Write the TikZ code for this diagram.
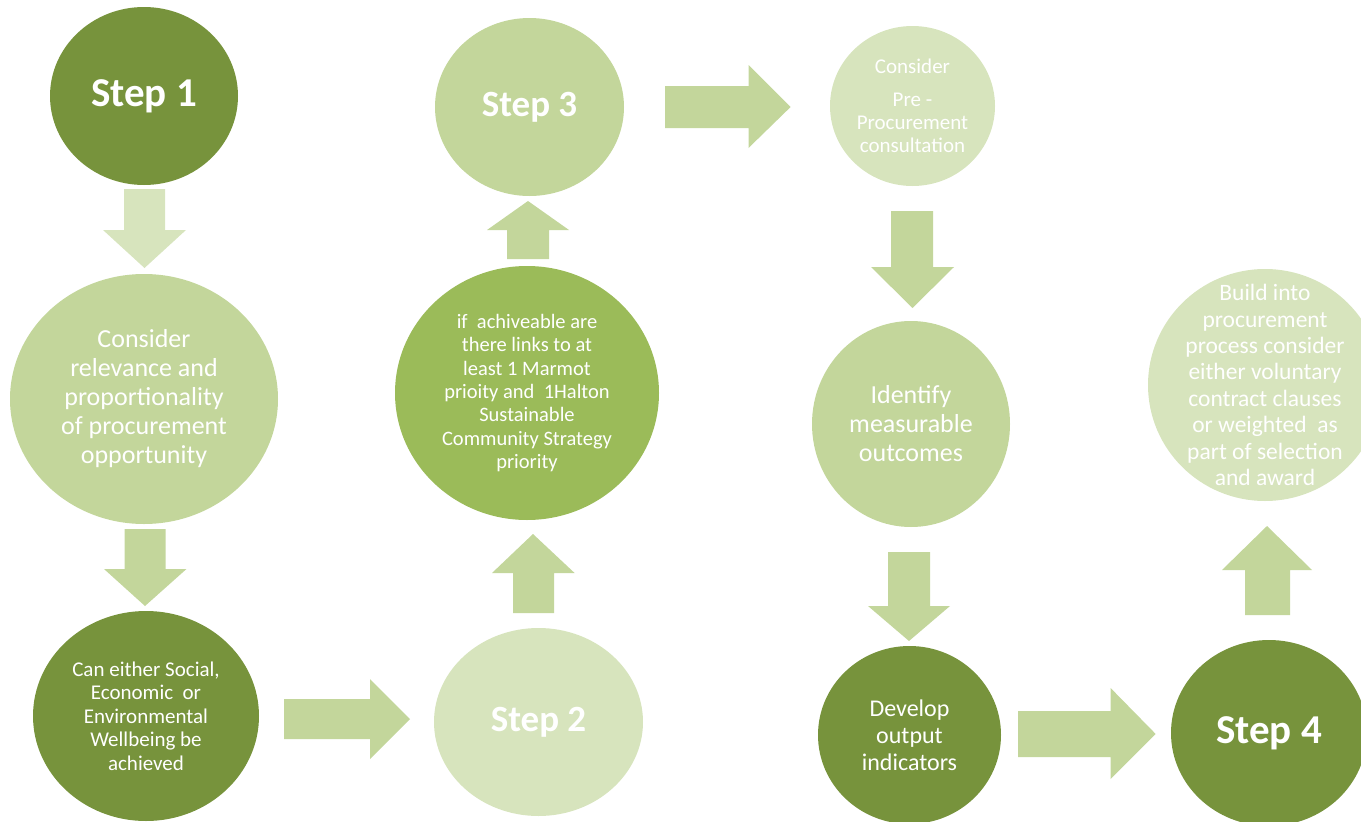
\documentclass[tikz,border=0pt]{standalone}
\usepackage{fontspec}
\setmainfont{Carlito}
\usetikzlibrary{shapes.geometric}
\definecolor{gdark}{HTML}{77933C}
\definecolor{gmed}{HTML}{9BBB59}
\definecolor{glight}{HTML}{C3D69B}
\definecolor{gvlight}{HTML}{D7E4BD}
\begin{document}
\begin{tikzpicture}[x=1pt,y=-1pt,
  bub/.style={ellipse,inner sep=0pt,draw=none},
  txt/.style={text=white,align=center,inner sep=0pt},
  steptxt/.style={txt,font=\bfseries},
  blk/.style={fill=glight}]
\useasboundingbox (0,0) rectangle (1361,822);

% bubbles
\node[bub,fill=gdark,minimum width=188pt,minimum height=178pt] (s1) at (144,96) {};
\node[bub,fill=glight,minimum width=268pt,minimum height=250pt] (cr) at (144,399) {};
\node[bub,fill=gdark,minimum width=226pt,minimum height=210pt] (ce) at (146,716) {};
\node[bub,fill=gvlight,minimum width=209pt,minimum height=188pt] (s2) at (538.5,722) {};
\node[bub,fill=gmed,minimum width=264pt,minimum height=254pt] (ia) at (527,393) {};
\node[bub,fill=glight,minimum width=189pt,minimum height=178pt] (s3) at (529.5,107) {};
\node[bub,fill=gvlight,minimum width=165pt,minimum height=160pt] (pp) at (912.5,106) {};
\node[bub,fill=glight,minimum width=198pt,minimum height=206pt] (im) at (911,424) {};
\node[bub,fill=gdark,minimum width=183pt,minimum height=178pt] (dv) at (909.5,735) {};
\node[bub,fill=gdark,minimum width=196pt,minimum height=186pt] (s4) at (1269,733) {};
\node[bub,fill=gvlight,minimum width=234pt,minimum height=232pt] (bi) at (1265,385) {};

% texts
\node[steptxt,font=\bfseries\fontsize{41}{48}\selectfont] (s1t) at (s1) {Step 1};
\node[steptxt,font=\bfseries\fontsize{37}{44}\selectfont] (s2t) at (s2) {Step 2};
\node[steptxt,font=\bfseries\fontsize{37}{44}\selectfont] (s3t) at (s3) {Step 3};
\node[steptxt,font=\bfseries\fontsize{41}{48}\selectfont] (s4t) at (s4) {Step 4};
\node[txt,font=\fontsize{26}{29}\selectfont] (crt) at (cr) {Consider\\relevance and\\proportionality\\of procurement\\opportunity};
\node[txt,font=\fontsize{21}{23.5}\selectfont] (cet) at (ce) {Can either Social,\\Economic~ or\\Environmental\\Wellbeing be\\achieved};
\node[txt,font=\fontsize{20.5}{23.3}\selectfont] (iat) at (ia) {if~ achiveable are\\there links to at\\least 1 Marmot\\prioity and~ 1Halton\\Sustainable\\Community Strategy\\priority};
\node[txt,font=\fontsize{21}{23}\selectfont] (ppt) at (pp) {Consider\\[10pt]Pre -\\Procurement\\consultation};
\node[txt,font=\fontsize{26}{29}\selectfont] (imt) at (im) {Identify\\measurable\\outcomes};
\node[txt,font=\fontsize{24}{27}\selectfont] (dvt) at (dv) {Develop\\output\\indicators};
\node[txt,font=\fontsize{23.5}{26.4}\selectfont] (bit) at (bi) {Build into\\procurement\\process consider\\either voluntary\\contract clauses\\or weighted~ as\\part of selection\\and award};

% block arrows
\fill[gvlight] (124,189) -- (165,189) -- (165,230) -- (186,230) -- (144.5,268) -- (103,230) -- (124,230) -- cycle;
\fill[blk] (124.5,529) -- (165.5,529) -- (165.5,569) -- (186.5,569) -- (145,606) -- (104,569) -- (124.5,569) -- cycle;
\fill[blk] (284,699) -- (370,699) -- (370,679) -- (410,719) -- (370,759) -- (370,739) -- (284,739) -- cycle;
\fill[blk] (513,613) -- (554,613) -- (554,573) -- (574.6,573) -- (533,534) -- (492,573) -- (513,573) -- cycle;
\fill[blk] (507,259) -- (549,259) -- (549,230) -- (569,230) -- (528,201) -- (487,230) -- (507,230) -- cycle;
\fill[blk] (665,86) -- (748.5,86) -- (748.5,65) -- (790.6,107) -- (748.5,148) -- (748.5,128) -- (665,128) -- cycle;
\fill[blk] (891,211) -- (933,211) -- (933,267) -- (954,267) -- (912.5,308) -- (871,267) -- (891,267) -- cycle;
\fill[blk] (888,552) -- (930,552) -- (930,606) -- (950,606) -- (909,641) -- (868,606) -- (888,606) -- cycle;
\fill[blk] (1018,711) -- (1110.6,711) -- (1110.6,688) -- (1155.7,734) -- (1110.6,779) -- (1110.6,757) -- (1018,757) -- cycle;
\fill[blk] (1245,615) -- (1290,615) -- (1290,570) -- (1312,570) -- (1267,526) -- (1222,570) -- (1245,570) -- cycle;
\end{tikzpicture}
\end{document}
